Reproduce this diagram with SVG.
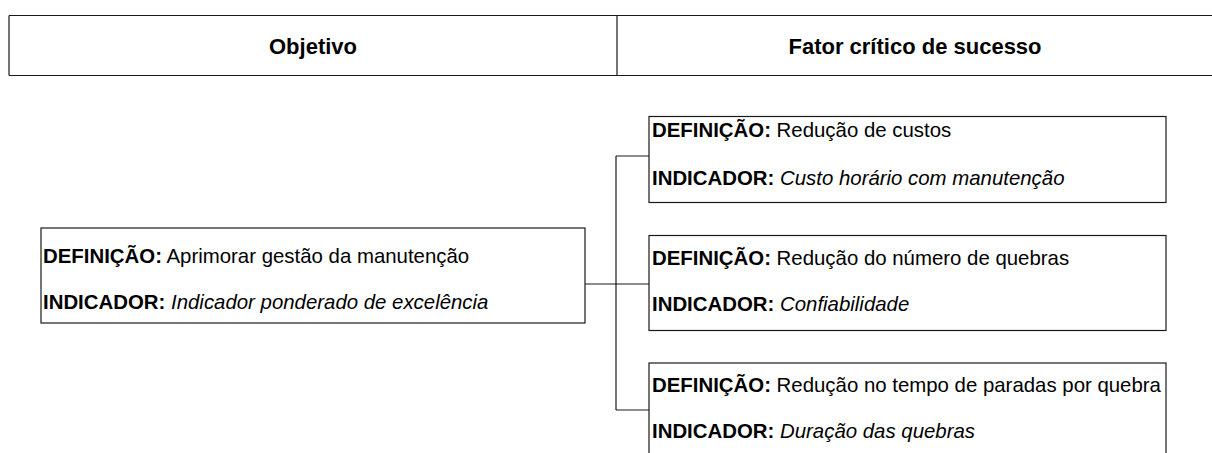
<svg xmlns="http://www.w3.org/2000/svg" width="1212" height="453" viewBox="0 0 1212 453">
<style>
text{font-family:"Liberation Sans",Arial,sans-serif;font-size:20.4px;fill:#000}
.b{font-weight:bold}
.i{font-style:italic}
.h{font-weight:bold;font-size:22px;text-anchor:middle}
.box{fill:#fff;stroke:#1a1a1a;stroke-width:1.2}
.ln{stroke:#1a1a1a;stroke-width:1.2;fill:none}
</style>
<rect width="1212" height="453" fill="#fff"/>
<g id="header">
<path class="ln" d="M9,15.5 H1212 M9,75.5 H1212 M9,15.5 V75.5 M617,15.5 V75.5"/>
<text class="h" x="313" y="53.5">Objetivo</text>
<text class="h" x="915" y="53.5">Fator crítico de sucesso</text>
</g>
<g id="connectors">
<path class="ln" d="M585,284 H616 M616,156 V410 M616,156 H649 M616,284 H649 M616,410 H649"/>
</g>
<g id="objetivo">
<rect class="box" x="41" y="228" width="544" height="95"/>
<text x="43" y="263"><tspan class="b">DEFINIÇÃO:</tspan> Aprimorar gestão da manutenção</text>
<text x="43" y="309"><tspan class="b">INDICADOR:</tspan> <tspan class="i">Indicador ponderado de excelência</tspan></text>
</g>
<g id="fcs1">
<rect class="box" x="649" y="116.5" width="517" height="86"/>
<text x="652" y="137"><tspan class="b">DEFINIÇÃO:</tspan> Redução de custos</text>
<text x="652" y="185"><tspan class="b">INDICADOR:</tspan> <tspan class="i">Custo horário com manutenção</tspan></text>
</g>
<g id="fcs2">
<rect class="box" x="649" y="235.5" width="517" height="95"/>
<text x="652" y="265"><tspan class="b">DEFINIÇÃO:</tspan> Redução do número de quebras</text>
<text x="652" y="311"><tspan class="b">INDICADOR:</tspan> <tspan class="i">Confiabilidade</tspan></text>
</g>
<g id="fcs3">
<rect class="box" x="649" y="363" width="517" height="110"/>
<text x="652" y="392"><tspan class="b">DEFINIÇÃO:</tspan> Redução no tempo de paradas por quebra</text>
<text x="652" y="438"><tspan class="b">INDICADOR:</tspan> <tspan class="i">Duração das quebras</tspan></text>
</g>
</svg>
